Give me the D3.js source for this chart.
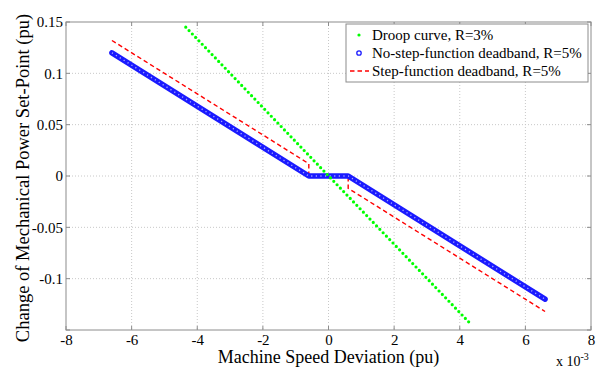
<!DOCTYPE html>
<html>
<head>
<meta charset="utf-8">
<script src="https://cdn.jsdelivr.net/npm/d3@7"></script>
<style>
  body { margin: 0; background: #fff; }
  svg { font-family: "Liberation Serif", "Times New Roman", serif; }
  .tick text { font-size: 15px; fill: #000; font-family: "Liberation Serif", "Times New Roman", serif; }
  .grid line { stroke: #c8c8c8; stroke-dasharray: 1 2; }
</style>
</head>
<body>
<svg class="chart" width="596" height="370"></svg>
<script>
// speed deviation in units of 1e-3 pu, set-point change in pu
const droopX = [-4.35, 4.3]
const droopY = [0.145, -0.143]

const noStepX = [-6.6, -0.6, 0.6, 6.6]
const noStepY = [0.12, 0, 0, -0.12]

const stepX = [-6.6, -0.6, -0.6, 0.6, 0.6, 6.6]
const stepY = [0.132, 0.012, 0, 0, -0.012, -0.132]

const xTicks = [-8, -6, -4, -2, 0, 2, 4, 6, 8]
const yTicks = [-0.1, -0.05, 0, 0.05, 0.1, 0.15]
const legendLabels = ["Droop curve, R=3%", "No-step-function deadband, R=5%", "Step-function deadband, R=5%"]

const svg = d3.select("svg.chart")

const plotLeft = 66, plotRight = 591, plotTop = 22, plotBottom = 330

const x = d3.scaleLinear().domain([-8, 8]).range([plotLeft, plotRight])
const y = d3.scaleLinear().domain([-0.15, 0.15]).range([plotBottom, plotTop])

// matlab-style labels with a plain hyphen for minus
const xFormat = d => String(d)
const yFormat = d => d === 0 ? "0" : String(+d.toFixed(2))

// grid
svg.append("g").attr("class", "grid")
    .selectAll("line")
    .data(xTicks.slice(1, -1))
    .enter()
    .append("line")
    .attr("x1", d => x(d)).attr("x2", d => x(d))
    .attr("y1", plotTop).attr("y2", plotBottom)

svg.append("g").attr("class", "grid")
    .selectAll("line")
    .data(yTicks.slice(0, -1))
    .enter()
    .append("line")
    .attr("x1", plotLeft).attr("x2", plotRight)
    .attr("y1", d => y(d)).attr("y2", d => y(d))

// axes
const xAxis = svg.append("g")
    .attr("transform", "translate(0," + plotBottom + ")")
    .call(d3.axisBottom(x).tickValues(xTicks).tickSize(0).tickPadding(4).tickFormat(xFormat))
xAxis.select(".domain").remove()

const yAxis = svg.append("g")
    .attr("transform", "translate(" + plotLeft + ",0)")
    .call(d3.axisLeft(y).tickValues(yTicks).tickSize(0).tickPadding(3).tickFormat(yFormat))
yAxis.select(".domain").remove()

svg.append("rect")
    .attr("x", plotLeft).attr("y", plotTop)
    .attr("width", plotRight - plotLeft).attr("height", plotBottom - plotTop)
    .attr("fill", "none")
    .attr("stroke", "#8c8c8c")
    .attr("stroke-width", 1)

// small tick marks inside the box
xTicks.forEach(t => {
    svg.append("line").attr("x1", x(t)).attr("x2", x(t)).attr("y1", plotBottom).attr("y2", plotBottom - 4).attr("stroke", "#8c8c8c")
    svg.append("line").attr("x1", x(t)).attr("x2", x(t)).attr("y1", plotTop).attr("y2", plotTop + 4).attr("stroke", "#8c8c8c")
})
yTicks.concat([-0.15]).forEach(t => {
    svg.append("line").attr("x1", plotLeft).attr("x2", plotLeft + 4).attr("y1", y(t)).attr("y2", y(t)).attr("stroke", "#8c8c8c")
    svg.append("line").attr("x1", plotRight).attr("x2", plotRight - 4).attr("y1", y(t)).attr("y2", y(t)).attr("stroke", "#8c8c8c")
})

const line = d3.line().x(d => x(d[0])).y(d => y(d[1]))

// step-function deadband (red dashed)
svg.append("path")
    .datum(d3.zip(stepX, stepY))
    .attr("d", line)
    .attr("fill", "none")
    .attr("stroke", "#ff0000")
    .attr("stroke-width", 1.4)
    .attr("stroke-dasharray", "4.5 3")

// no-step-function deadband (blue circles)
svg.append("path")
    .datum(d3.zip(noStepX, noStepY))
    .attr("d", line)
    .attr("fill", "none")
    .attr("stroke", "#1a1aff")
    .attr("stroke-width", 5.5)
    .attr("stroke-linejoin", "round")
    .attr("stroke-linecap", "round")

svg.append("path")
    .datum(d3.zip(noStepX, noStepY))
    .attr("d", line)
    .attr("fill", "none")
    .attr("stroke", "#a8a8ff")
    .attr("stroke-width", 1.4)
    .attr("stroke-dasharray", "1.2 3.4")

// droop curve (green dots)
svg.append("path")
    .datum(d3.zip(droopX, droopY))
    .attr("d", line)
    .attr("fill", "none")
    .attr("stroke", "#00ff00")
    .attr("stroke-width", 3.2)
    .attr("stroke-linecap", "round")
    .attr("stroke-dasharray", "0 4.75")

// legend
svg.append("rect")
    .attr("x", 346).attr("y", 24)
    .attr("width", 242).attr("height", 58)
    .attr("fill", "#fff")
    .attr("stroke", "#8c8c8c")
const lg = svg.append("g")

const rowY = [35, 53, 71]
lg.selectAll("text")
    .data(legendLabels)
    .enter()
    .append("text")
    .attr("x", 372)
    .attr("y", (d, i) => rowY[i])
    .attr("dy", "0.35em")
    .attr("font-size", 15)
    .text(d => d)

lg.append("circle").attr("cx", 359).attr("cy", rowY[0]).attr("r", 1.6).attr("fill", "#00ff00")
lg.append("circle").attr("cx", 359).attr("cy", rowY[1]).attr("r", 2.2).attr("fill", "none").attr("stroke", "#1a1aff").attr("stroke-width", 1.3)
lg.append("line").attr("x1", 350).attr("x2", 369).attr("y1", rowY[2]).attr("y2", rowY[2])
    .attr("stroke", "#ff0000").attr("stroke-width", 1.4).attr("stroke-dasharray", "4.5 3")

// titles
svg.append("text")
    .attr("x", (plotLeft + plotRight) / 2)
    .attr("y", 363)
    .attr("text-anchor", "middle")
    .attr("font-size", 18)
    .text("Machine Speed Deviation (pu)")

svg.append("text")
    .attr("transform", "translate(29," + ((plotTop + plotBottom) / 2 + 2) + ") rotate(-90)")
    .attr("text-anchor", "middle")
    .attr("font-size", 18.5)
    .text("Change of Mechanical Power Set-Point (pu)")

const exp = svg.append("text")
    .attr("x", 556)
    .attr("y", 366)
    .attr("font-size", 14)
exp.append("tspan").text("x 10")
exp.append("tspan").attr("dy", -6).attr("font-size", 10).text("-3")
</script>
</body>
</html>
